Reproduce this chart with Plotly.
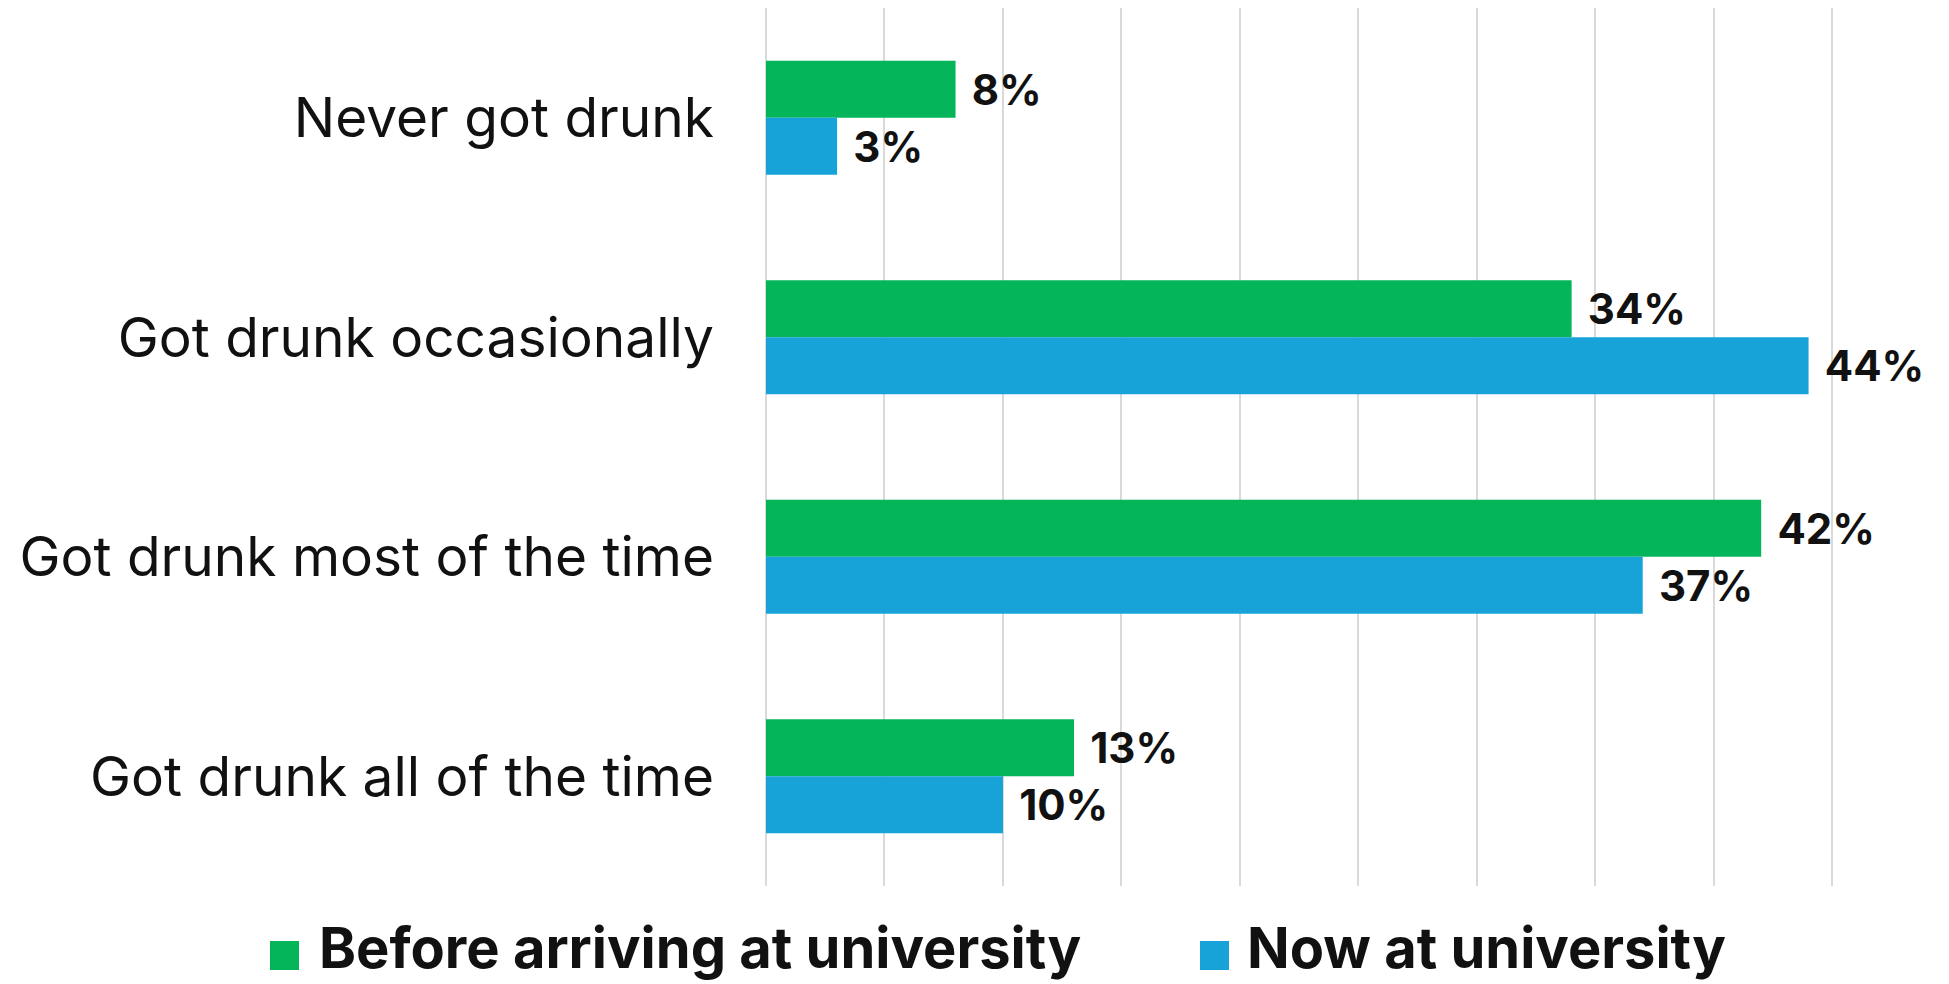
import plotly.graph_objects as go

categories = ["Never got drunk", "Got drunk occasionally", "Got drunk most of the time", "Got drunk all of the time"]
before_vals = [8, 34, 42, 13]
now_vals = [3, 44, 37, 10]
series_names = ["Before arriving at university", "Now at university"]
colors = ["#04B55A", "#17A3D8"]

W, H = 1949, 984
XMAX = 45.2
L, T, B = 766, 8, 98
PW = round(1066 / 45 * XMAX)
R = W - L - PW
PH = H - T - B

FONT = "Inter"
TXT = "#111111"
pad = "\u2009\u2009"

fig = go.Figure()
for name, vals, col in zip(series_names, [before_vals, now_vals], colors):
    fig.add_trace(go.Bar(
        y=categories, x=vals, name=name, orientation="h",
        marker=dict(color=col, line=dict(width=0)),
        text=[f"{pad}{v}%" for v in vals], textposition="outside",
        textfont=dict(family=FONT, size=42, color=TXT, weight="bold"),
        cliponaxis=False, showlegend=False,
    ))

def px_x(p):
    return (p - L) / PW

def px_y(p):
    return (H - B - p) / PH

shapes = []
annotations = []
legend_items = [(270, 317), (1200, 1245)]
for (sx, tx), name, col in zip(legend_items, series_names, colors):
    shapes.append(dict(type="rect", xref="paper", yref="paper",
                       x0=px_x(sx), x1=px_x(sx + 29), y0=px_y(970), y1=px_y(941),
                       fillcolor=col, line=dict(width=0)))
    annotations.append(dict(text=name, xref="paper", yref="paper", x=px_x(tx), y=px_y(984),
                            xanchor="left", yanchor="bottom", showarrow=False,
                            font=dict(family=FONT, size=56, color=TXT, weight="bold")))

fig.update_layout(
    width=W, height=H,
    margin=dict(l=L, r=R, t=T, b=B, pad=0),
    paper_bgcolor="white", plot_bgcolor="white",
    barmode="group", bargap=0.48, bargroupgap=0,
    shapes=shapes, annotations=annotations,
    xaxis=dict(range=[0, XMAX], dtick=5, tick0=0, showticklabels=False,
               showgrid=True, gridcolor="#D9D9D9", gridwidth=2,
               zeroline=True, zerolinecolor="#D9D9D9", zerolinewidth=2,
               showline=False, fixedrange=True),
    yaxis=dict(autorange="reversed", showgrid=False, showline=False,
               ticks="outside", ticklen=40, tickcolor="rgba(0,0,0,0)",
               tickfont=dict(family=FONT, size=55, color=TXT)),
    showlegend=False,
)

fig.write_html("out.html", config={"displayModeBar": False},
               post_script="document.body.style.margin='0';")
